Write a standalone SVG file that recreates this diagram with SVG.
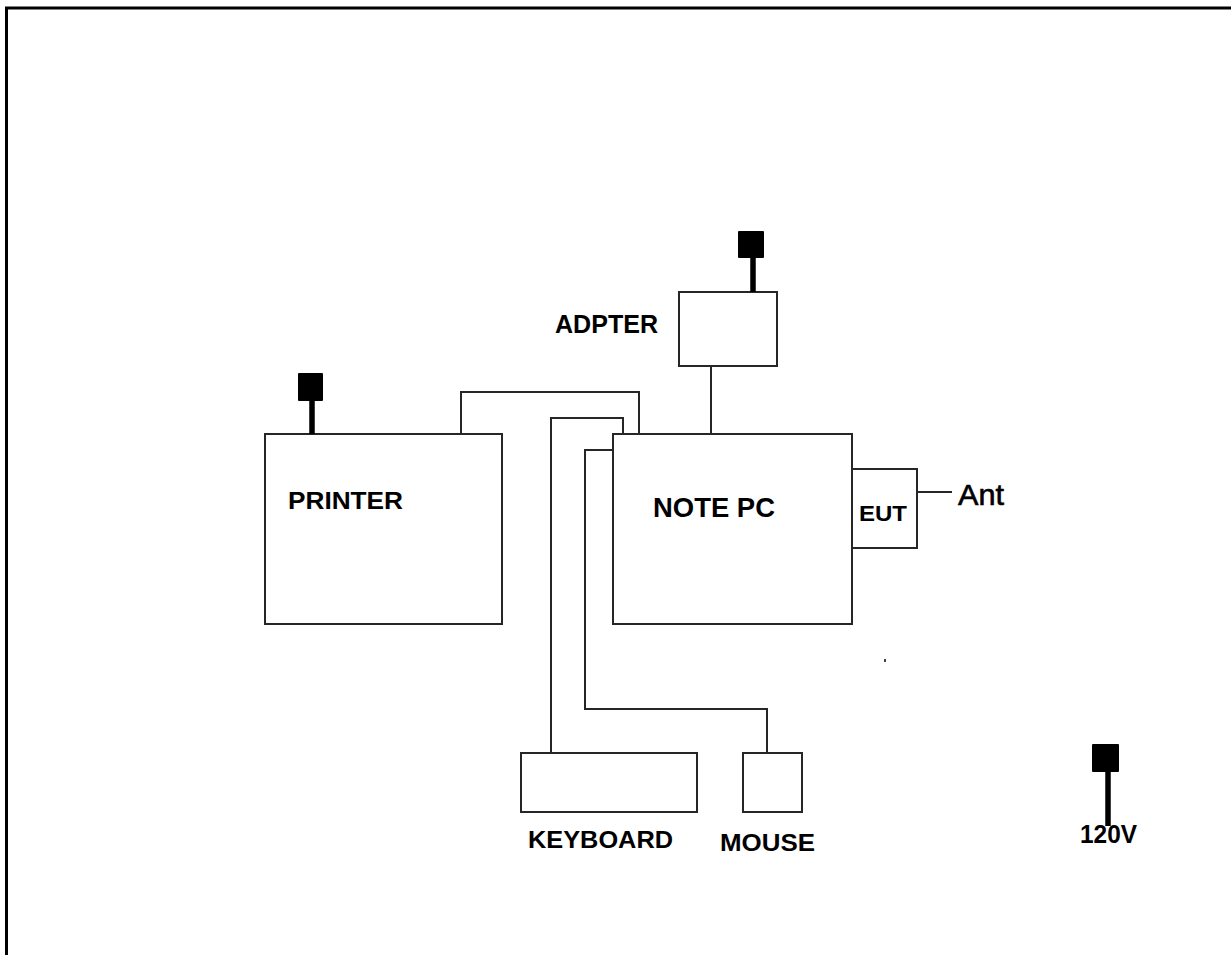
<svg xmlns="http://www.w3.org/2000/svg" width="1231" height="955" viewBox="0 0 1231 955">
<style>
.box{fill:#fff;stroke:#262626;stroke-width:2}
.wire{fill:none;stroke:#262626;stroke-width:2}
.plug{fill:#000}
.stem{stroke:#000;stroke-width:5.5}
.lbl{font-family:"Liberation Sans",Arial,sans-serif;font-weight:bold;fill:#000}
</style>
<rect width="1231" height="955" fill="#fff"/>
<g id="frame">
<line x1="5" y1="8" x2="1231" y2="8" stroke="#000" stroke-width="3"/>
<line x1="6.5" y1="7" x2="6.5" y2="955" stroke="#000" stroke-width="3"/>
</g>
<g id="connectors">
<polyline class="wire" points="461,434 461,392 639,392 639,434"/>
<polyline class="wire" points="551,753 551,418 623,418 623,434"/>
<polyline class="wire" points="613,450 585,450 585,709 767,709 767,753"/>
<line class="wire" x1="711" y1="366" x2="711" y2="434"/>
<line class="wire" x1="917" y1="492" x2="952" y2="492"/>
</g>
<g id="printer">
<rect class="box" x="265" y="434" width="237" height="190"/>
<line class="stem" x1="312" y1="400" x2="312" y2="434"/>
<rect class="plug" x="298" y="373" width="25" height="28" rx="1"/>
<text class="lbl" x="288" y="509" font-size="24" textLength="115" lengthAdjust="spacingAndGlyphs">PRINTER</text>
</g>
<g id="notepc">
<rect class="box" x="613" y="434" width="239" height="190"/>
<text class="lbl" x="653" y="517" font-size="27" textLength="122" lengthAdjust="spacingAndGlyphs">NOTE PC</text>
</g>
<g id="adapter">
<rect class="box" x="679" y="292" width="98" height="74"/>
<line class="stem" x1="753" y1="257" x2="753" y2="292"/>
<rect class="plug" x="738" y="231" width="26" height="27" rx="1"/>
<text class="lbl" x="555" y="333" font-size="25" textLength="103" lengthAdjust="spacingAndGlyphs">ADPTER</text>
</g>
<g id="eut">
<rect class="box" x="852" y="469" width="65" height="79"/>
<text class="lbl" x="859" y="521" font-size="22" textLength="48" lengthAdjust="spacingAndGlyphs">EUT</text>
</g>
<g id="ant">
<text x="958" y="505" font-family="Liberation Sans,Arial,sans-serif" font-size="29" textLength="46" lengthAdjust="spacingAndGlyphs" fill="#000" stroke="#000" stroke-width="0.6">Ant</text>
</g>
<g id="keyboard">
<rect class="box" x="521" y="753" width="176" height="59"/>
<text class="lbl" x="528" y="848" font-size="23" textLength="145" lengthAdjust="spacingAndGlyphs">KEYBOARD</text>
</g>
<g id="mouse">
<rect class="box" x="743" y="753" width="59" height="59"/>
<text class="lbl" x="720" y="851" font-size="23" textLength="95" lengthAdjust="spacingAndGlyphs">MOUSE</text>
</g>
<g id="power120v">
<line class="stem" x1="1108" y1="771" x2="1108" y2="826"/>
<rect class="plug" x="1092" y="744" width="27" height="28" rx="1"/>
<text class="lbl" x="1080" y="843" font-size="25" textLength="57" lengthAdjust="spacingAndGlyphs">120V</text>
</g>
<rect x="884" y="659" width="2" height="3" fill="#444"/>
</svg>
